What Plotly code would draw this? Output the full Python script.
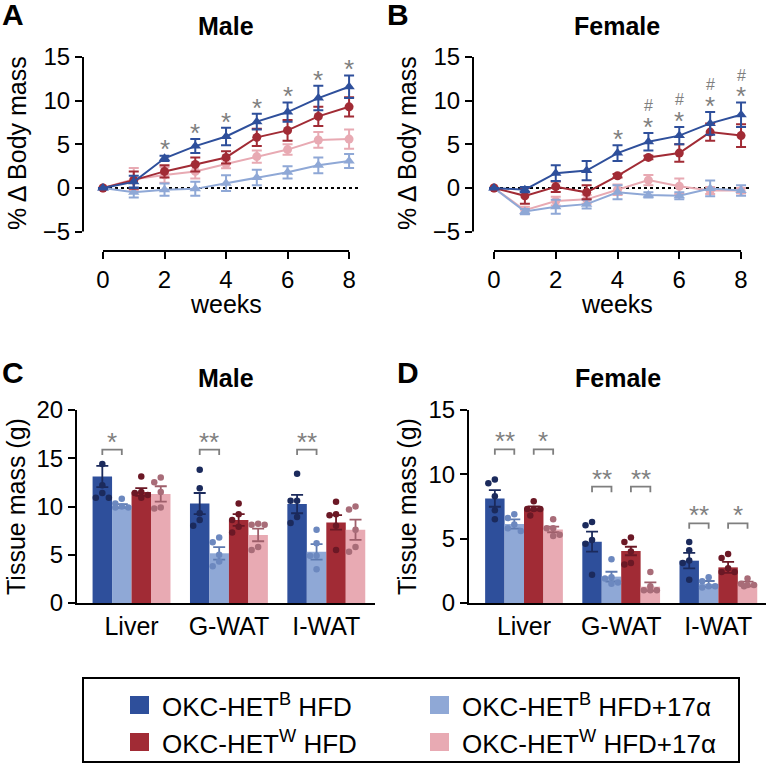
import plotly.graph_objects as go

W, H = 768, 764
FONT = "Liberation Sans, Arial, sans-serif"
GRAY = "#7f7f7f"

weeks = [0, 1, 2, 3, 4, 5, 6, 7, 8]
tissues = ["Liver", "G-WAT", "I-WAT"]

names = ["OKC-HET<sup>B</sup> HFD", "OKC-HET<sup>B</sup> HFD+17α",
         "OKC-HET<sup>W</sup> HFD", "OKC-HET<sup>W</sup> HFD+17α"]
colors = ["#2E4F9B", "#8FA8D6", "#A12B35", "#E8AAB3"]
dot_colors = ["#1B2A5C", "#6C88BF", "#6B1825", "#A86C78"]
err_colors = ["#1B2A5C", "#5E7AB0", "#6B1825", "#9E5F6B"]
symbols = ["triangle-up", "triangle-up", "circle", "circle"]

# A - male % change in body mass (mean, sem)
male_b = [0, 0.7, 3.4, 4.8, 5.9, 7.6, 8.7, 10.3, 11.6]
male_b_sem = [0, 0.7, 0.3, 0.8, 1.0, 0.9, 1.1, 1.4, 1.3]
male_b17 = [0, -0.5, -0.2, -0.1, 0.55, 1.2, 1.8, 2.6, 3.1]
male_b17_sem = [0, 0.6, 0.7, 0.8, 0.9, 0.9, 0.7, 0.9, 0.8]
male_w = [0, 0.9, 1.9, 2.7, 3.5, 5.8, 6.6, 8.2, 9.3]
male_w_sem = [0, 1.0, 0.7, 0.8, 0.7, 1.0, 1.2, 1.1, 1.1]
male_w17 = [0, 1.0, 1.5, 1.9, 2.75, 3.6, 4.4, 5.5, 5.6]
male_w17_sem = [0, 1.3, 0.9, 0.8, 0.5, 0.7, 0.6, 0.9, 1.1]
male_star_weeks = [2, 3, 4, 5, 6, 7, 8]

# B - female % change in body mass
fem_b = [0, -0.2, 1.7, 2.0, 4.0, 5.3, 6.0, 7.4, 8.4]
fem_b_sem = [0, 0.3, 0.9, 1.1, 0.9, 1.0, 1.0, 1.3, 1.4]
fem_b17 = [0, -2.7, -2.15, -1.85, -0.5, -0.8, -0.9, -0.05, -0.3]
fem_b17_sem = [0, 0.3, 0.8, 0.5, 0.8, 0.3, 0.4, 0.9, 0.6]
fem_w = [0, -0.9, 0.15, -0.5, 1.4, 3.5, 4.0, 6.4, 6.0]
fem_w_sem = [0, 0.9, 0.6, 0.8, 0.2, 0.2, 1.0, 1.0, 1.3]
fem_w17 = [0, -2.55, -1.5, -1.3, -0.2, 0.9, 0.2, -0.3, -0.3]
fem_w17_sem = [0, 0.4, 0.5, 0.5, 0.6, 0.6, 0.9, 0.4, 0.3]
fem_star_weeks = [4, 5, 6, 7, 8]
fem_hash_weeks = [5, 6, 7, 8]

# C - male tissue mass (g): liver, G-WAT, I-WAT
mt_b = [13.1, 10.3, 10.25]
mt_b_sem = [1.1, 1.1, 0.95]
mt_b_pts = [[14.4, 12.2, 11.4, 10.9, 10.9], [13.8, 11.9, 9.3, 8.6, 8.0], [13.4, 10.6, 10.6, 8.9, 8.3]]
mt_b17 = [10.05, 5.15, 5.3]
mt_b17_sem = [0.2, 0.65, 0.8]
mt_b17_pts = [[10.8, 10.3, 10.0, 9.9, 9.9], [6.8, 6.3, 5.0, 4.3, 3.8], [7.6, 6.2, 4.9, 4.9, 3.5]]
mt_w = [11.5, 8.6, 8.35]
mt_w_sem = [0.4, 0.6, 0.75]
mt_w_pts = [[13.1, 11.5, 11.4, 11.2, 10.9], [10.3, 9.2, 8.6, 7.9, 7.3], [10.5, 9.2, 9.1, 8.0, 5.5]]
mt_w17 = [11.3, 7.05, 7.6]
mt_w17_sem = [0.8, 0.65, 1.05]
mt_w17_pts = [[13.0, 12.5, 11.5, 9.9, 9.8], [8.2, 8.1, 8.1, 5.8, 5.5], [10.0, 9.7, 7.6, 5.8, 5.3]]
# (tissue, bar a, bar b, label, height)
mt_sig = [(0, 0, 1, "*", 15.9), (1, 0, 1, "**", 15.9), (2, 0, 1, "**", 15.9)]

# D - female tissue mass (g)
ft_b = [8.13, 4.77, 3.29]
ft_b_sem = [0.65, 0.77, 0.6]
ft_b_pts = [[9.6, 9.3, 8.3, 7.2, 6.5], [6.3, 6.05, 4.9, 4.6, 2.2], [4.75, 4.1, 3.3, 3.1, 1.8]]
ft_b17 = [6.14, 2.05, 1.48]
ft_b17_sem = [0.36, 0.38, 0.23]
ft_b17_pts = [[6.9, 6.6, 6.1, 5.8, 5.6], [3.4, 2.0, 1.9, 1.6, 1.5], [2.0, 1.7, 1.3, 1.3, 1.2]]
ft_w = [7.36, 4.04, 2.77]
ft_w_sem = [0.15, 0.33, 0.43]
ft_w_pts = [[7.9, 7.3, 7.3, 7.3, 6.8], [5.1, 4.75, 4.0, 3.1, 3.0], [3.8, 3.5, 2.7, 2.4, 2.4]]
ft_w17 = [5.72, 1.27, 1.48]
ft_w17_sem = [0.22, 0.33, 0.18]
ft_w17_pts = [[6.5, 5.8, 5.8, 5.3, 5.2], [2.4, 1.3, 1.0, 1.0, 1.0], [1.9, 1.5, 1.4, 1.4, 1.3]]
ft_sig = [(0, 0, 1, "**", 11.94), (0, 2, 3, "*", 11.94), (1, 0, 1, "**", 9.04),
          (1, 2, 3, "**", 9.04), (2, 0, 1, "**", 6.19), (2, 2, 3, "*", 6.19)]


def px(x):
    return x / W


def py(y):
    return 1 - y / H


# panel geometry in pixels: (left, right, top, bottom), axis ranges
panels = {
    "A": dict(box=(83, 358, 52, 251), xr=[-0.65, 8.29], yr=[-7.22, 15.58]),
    "B": dict(box=(473, 750, 52, 251), xr=[-0.68, 8.29], yr=[-7.22, 15.58]),
    "C": dict(box=(77, 375, 410, 603), xr=[-0.56, 2.5], yr=[0, 20]),
    "D": dict(box=(469, 766, 410, 603), xr=[-0.566, 2.49], yr=[0, 15]),
}

fig = go.Figure()
layout = dict(template="none", width=W, height=H, margin=dict(l=0, r=0, t=0, b=0, pad=0),
              paper_bgcolor="white", plot_bgcolor="white", showlegend=False,
              barmode="overlay", font=dict(family=FONT, color="black"))
axis_ids = {"A": "", "B": "2", "C": "3", "D": "4"}
tick_font = dict(family=FONT, size=24, color="black")

for key, p in panels.items():
    l, r, t, b = p["box"]
    n = axis_ids[key]
    line = key in ("C", "D")
    xa = dict(domain=[px(l), px(r)], range=p["xr"], anchor="y" + n, automargin=False,
              showgrid=False, zeroline=False, tickfont=tick_font,
              showline=line, linecolor="black", linewidth=2,
              ticks="outside", ticklen=7, tickwidth=2, tickcolor="black")
    ya = dict(domain=[py(b), py(t)], range=p["yr"], anchor="x" + n, automargin=False,
              showgrid=False, zeroline=False, tickfont=tick_font, dtick=5, tick0=0,
              showline=line, linecolor="black", linewidth=2,
              ticks="outside", ticklen=7, tickwidth=2, tickcolor="black")
    if line:
        xa.update(tickvals=[0, 1, 2], ticktext=tissues, ticks="",
                  tickfont=dict(family=FONT, size=25, color="black"))
    else:
        xa.update(tickvals=[0, 2, 4, 6, 8])
    layout["xaxis" + n] = xa
    layout["yaxis" + n] = ya

fig.update_layout(**layout)

shapes = []
annotations = []

# line panels
line_sets = {
    "A": ([male_b, male_b17, male_w, male_w17],
          [male_b_sem, male_b17_sem, male_w_sem, male_w17_sem]),
    "B": ([fem_b, fem_b17, fem_w, fem_w17],
          [fem_b_sem, fem_b17_sem, fem_w_sem, fem_w17_sem]),
}
for key, (means, sems) in line_sets.items():
    n = axis_ids[key]
    xr, yr = "x" + n, "y" + n
    # detached axis lines
    shapes.append(dict(type="line", xref=xr + " domain", yref=yr, x0=0, x1=0, y0=-5, y1=15,
                       line=dict(color="black", width=2)))
    shapes.append(dict(type="line", xref=xr, yref=yr + " domain", x0=0, x1=8, y0=0, y1=0,
                       line=dict(color="black", width=2)))
    shapes.append(dict(type="line", xref=xr, yref=yr, x0=0, x1=panels[key]["xr"][1], y0=0, y1=0,
                       line=dict(color="black", width=2, dash="dot"), layer="below"))
    for i in [3, 1, 2, 0]:
        fig.add_trace(go.Scatter(
            x=weeks, y=means[i], mode="lines+markers", xaxis=xr, yaxis=yr,
            line=dict(color=colors[i], width=2),
            marker=dict(symbol=symbols[i], size=9 if i >= 2 else 10, color=colors[i]),
            error_y=dict(type="data", array=sems[i], color=colors[i], thickness=2, width=5)))

    top = [m + s for m, s in zip(means[0], sems[0])]
    star_weeks = male_star_weeks if key == "A" else fem_star_weeks
    for w in star_weeks:
        annotations.append(dict(x=w, y=top[w] + 1.4, xref=xr, yref=yr, text="*",
                                showarrow=False, yanchor="middle", yshift=-6,
                                font=dict(family=FONT, size=26, color=GRAY)))
    if key == "B":
        for w in fem_hash_weeks:
            annotations.append(dict(x=w, y=top[w] + 3.1, xref=xr, yref=yr, text="#",
                                    showarrow=False, yanchor="middle",
                                    font=dict(family=FONT, size=16, color=GRAY)))

# bar panels
bar_sets = {
    "C": ([mt_b, mt_b17, mt_w, mt_w17], [mt_b_sem, mt_b17_sem, mt_w_sem, mt_w17_sem],
          [mt_b_pts, mt_b17_pts, mt_w_pts, mt_w17_pts], mt_sig),
    "D": ([ft_b, ft_b17, ft_w, ft_w17], [ft_b_sem, ft_b17_sem, ft_w_sem, ft_w17_sem],
          [ft_b_pts, ft_b17_pts, ft_w_pts, ft_w17_pts], ft_sig),
}
offsets = [-0.3, -0.1, 0.1, 0.3]
bar_w = 0.2


def swarm(vals, sx, sy, d=6.5):
    cands = [0, -6.5, 6.5, -3.5, 3.5]
    placed = []
    for v in vals:
        best, best_d = 0, -1
        for c in cands:
            md = min([((c - a) ** 2 + ((v - pv) * sy) ** 2) ** 0.5 for a, pv in placed] or [99])
            if md >= d:
                best = c
                break
            if md > best_d:
                best, best_d = c, md
        placed.append((best, v))
    return [c / sx for c, _ in placed]


for key, (means, sems, pts, sig) in bar_sets.items():
    n = axis_ids[key]
    xr, yr = "x" + n, "y" + n
    l, r, t, b = panels[key]["box"]
    sx = (r - l) / (panels[key]["xr"][1] - panels[key]["xr"][0])
    sy = (b - t) / (panels[key]["yr"][1] - panels[key]["yr"][0])
    for i in range(4):
        xs = [g + offsets[i] for g in range(3)]
        fig.add_trace(go.Bar(
            x=xs, y=means[i], width=bar_w, xaxis=xr, yaxis=yr,
            marker=dict(color=colors[i], line=dict(width=0)),
            error_y=dict(type="data", array=sems[i], color=err_colors[i], thickness=1.8, width=6)))
    for i in range(4):
        dx, dy = [], []
        for g in range(3):
            jit = swarm(pts[i][g], sx, sy)
            dx += [g + offsets[i] + j for j in jit]
            dy += pts[i][g]
        fig.add_trace(go.Scatter(x=dx, y=dy, mode="markers", xaxis=xr, yaxis=yr,
                                 marker=dict(size=6.5, color=dot_colors[i])))
    leg = 5.5 / sy
    for g, a, c, label, h in sig:
        x0, x1 = g + offsets[a], g + offsets[c]
        shapes.append(dict(type="path", xref=xr, yref=yr,
                           path=f"M {x0},{h - leg} L {x0},{h} L {x1},{h} L {x1},{h - leg}",
                           line=dict(color=GRAY, width=1.8)))
        annotations.append(dict(x=(x0 + x1) / 2, y=h, xref=xr, yref=yr, text=label,
                                showarrow=False, yanchor="bottom", yshift=-9,
                                font=dict(family=FONT, size=26, color=GRAY)))

# panel letters, titles, axis titles


def text(x, y, s, size, bold=False, angle=0, xanchor="center"):
    annotations.append(dict(x=px(x), y=py(y), xref="paper", yref="paper",
                            text=f"<b>{s}</b>" if bold else s, showarrow=False,
                            textangle=angle, xanchor=xanchor, yanchor="middle",
                            font=dict(family=FONT, size=size, color="black")))


for s, x, y in [("A", 0, 15), ("B", 385, 15), ("C", 0, 372), ("D", 395, 372)]:
    text(x, y, s, 30, bold=True, xanchor="left")
for s, x, y in [("Male", 226, 26), ("Female", 617, 26), ("Male", 226, 378), ("Female", 618, 378)]:
    text(x, y, s, 25, bold=True)
text(17, 143, "% Δ Body mass", 25, angle=-90)
text(407, 143, "% Δ Body mass", 25, angle=-90)
text(16, 507, "Tissue mass (g)", 25, angle=-90)
text(407, 507, "Tissue mass (g)", 25, angle=-90)
text(226, 304, "weeks", 25)
text(617, 304, "weeks", 25)

# legend box
shapes.append(dict(type="rect", xref="paper", yref="paper", x0=px(83), x1=px(739),
                   y0=py(762), y1=py(678), line=dict(color="black", width=2)))
leg_pos = [(130, 705), (430, 705), (130, 742), (430, 742)]
for i, (lx, ly) in enumerate(leg_pos):
    shapes.append(dict(type="rect", xref="paper", yref="paper", x0=px(lx), x1=px(lx + 19),
                       y0=py(ly + 9), y1=py(ly - 9), line=dict(width=0), fillcolor=colors[i]))
    text(lx + 30, ly, names[i], 26, xanchor="left")

fig.update_layout(shapes=shapes, annotations=annotations)
fig.write_html("out.html", config={"displayModeBar": False},
               post_script="document.body.style.margin='0px';")
